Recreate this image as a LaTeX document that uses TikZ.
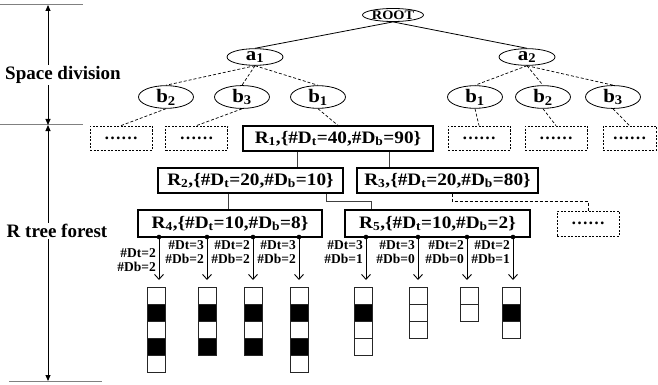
\documentclass[tikz,border=0pt]{standalone}
\usepackage{fontspec}
\setmainfont{Liberation Serif}
\newfontfamily\wideserif{Liberation Serif}[FakeStretch=1.1]
\usetikzlibrary{shapes.geometric,arrows.meta}
\newcommand{\cntT}{\#D\textsubscript{t}}
\newcommand{\cntB}{\#D\textsubscript{b}}
\tikzset{
  key/.style={ellipse,draw,line width=0.8pt,inner sep=0pt,minimum width=56pt,minimum height=15pt,font=\wideserif\fontsize{19}{19}\selectfont\bfseries},
  rbox/.style={draw,line width=1.1pt,inner sep=0pt,minimum height=25pt,font=\wideserif\fontsize{17.5}{18}\selectfont\bfseries},
  stub/.style={draw,dash pattern=on 2pt off 1.5pt,line width=0.8pt,inner sep=0pt,minimum width=62pt,minimum height=24pt,font=\fontsize{17}{17}\selectfont\bfseries},
  side/.style={fill=white,inner sep=1pt,font=\fontsize{19}{19}\selectfont\bfseries},
  cnt/.style={inner sep=0pt,font=\fontsize{13.5}{14}\selectfont\bfseries},
  link/.style={draw=black!75,line width=0.8pt},
  dlink/.style={dash pattern=on 3pt off 2pt,line width=0.7pt},
  dim/.style={line width=0.9pt,{Triangle[length=6pt,width=5pt]}-{Triangle[length=6pt,width=5pt]}},
  ptr/.style={line width=0.9pt,-{Straight Barb[length=5pt,width=9pt]}},
}
\begin{document}
\begin{tikzpicture}[x=1pt,y=1pt,yscale=-1]
\useasboundingbox (0,0) rectangle (658,385);
% scale on the left
\draw[gray,line width=1pt] (0,5) -- (83,5);
\draw[gray,line width=1pt] (0,125) -- (83,125);
\draw[gray,line width=1pt] (9,381) -- (102,381);
\coordinate (t0) at (48,5);
\coordinate (t1) at (48,125);
\coordinate (t2) at (48,381);
\draw[dim] (t0) -- (t1);
\draw[dim] (t1) -- (t2);
\node[side] (sd) at (63,75) {Space division};
\node[side] (rf) at (57,231) {R tree forest};

% space division tree
\node[key,minimum width=61pt,minimum height=13pt,font=\wideserif\fontsize{13}{13}\selectfont\bfseries] (root) at (393,15) {ROOT};
\node[key] (a1) at (255,57) {a\textsubscript{1}};
\node[key] (a2) at (527,57) {a\textsubscript{2}};
\node[key,minimum width=55pt] (l2) at (166,97) {b\textsubscript{2}};
\node[key,minimum width=55pt] (l3) at (242,97) {b\textsubscript{3}};
\node[key,minimum width=55pt] (l1) at (318,97) {b\textsubscript{1}};
\node[key,minimum width=55pt] (r1) at (475,97) {b\textsubscript{1}};
\node[key,minimum width=55pt] (r2) at (543,97) {b\textsubscript{2}};
\node[key,minimum width=55pt] (r3) at (613,97) {b\textsubscript{3}};
\draw[line width=0.8pt] (root.south) -- (a1.north);
\draw[line width=0.8pt] (root.south) -- (a2.north);
\foreach \k in {l2,l3,l1} \draw[dlink] (a1.south) -- (\k.north);
\foreach \k in {r1,r2,r3} \draw[dlink] (a2.south) -- (\k.north);

% R tree forest
\node[stub] (e1) at (121,138) {……};
\node[stub] (e2) at (196.5,138) {……};
\node[rbox,minimum width=190pt] (R1) at (338,138.5) {R\textsubscript{1},\{\cntT=40,\cntB=90\}};
\node[stub] (e3) at (479,138) {……};
\node[stub] (e4) at (556,138) {……};
\node[stub,minimum width=53pt] (e5) at (629.5,138) {……};
\node[rbox,minimum width=185pt] (R2) at (250.5,180.5) {R\textsubscript{2},\{\cntT=20,\cntB=10\}};
\node[rbox,minimum width=181pt] (R3) at (447.5,180.5) {R\textsubscript{3},\{\cntT=20,\cntB=80\}};
\node[rbox,minimum width=184pt,minimum height=27pt] (R4) at (230,223.5) {R\textsubscript{4},\{\cntT=10,\cntB=8\}};
\node[rbox,minimum width=185pt,minimum height=27pt] (R5) at (437.5,223.5) {R\textsubscript{5},\{\cntT=10,\cntB=2\}};
\node[stub,minimum height=25pt] (e6) at (588,223.5) {……};
\draw[dlink] (l2.south) -- (e1.north);
\draw[dlink] (l3.south) -- (e2.north);
\draw[dlink] (l1.south) -- (R1.north);
\draw[dlink] (r1.south) -- (e3.north);
\draw[dlink] (r2.south) -- (e4.north);
\draw[dlink] (r3.south) -- (e5.north);
\coordinate (j1) at (297,0);
\coordinate (j2) at (389,0);
\coordinate (j3) at (228,0);
\coordinate (k1) at (326,201);
\coordinate (k2) at (371,201);
\coordinate (k3) at (452,201);
\draw[link] (R1.south -| j1) -- (R2.north -| j1);
\draw[link] (R1.south -| j2) -- (R3.north -| j2);
\draw[link] (R2.south -| j3) -- (R4.north -| j3);
\draw[link] (R2.south -| k1) -- (k1) -- (k2) -- (R5.north -| k2);
\draw[dlink] (R3.south -| k3) -- (k3) -| (e6.north);

% leaf pointers
\foreach \i/\x/\vt/\vb/\y in {1/159/2/2/253,2/207/3/2/245,3/253/2/2/245,4/299/3/2/245,
                              5/366/3/1/245,6/418/3/0/245,7/467/2/0/245,8/513/2/1/245} {
  \coordinate (p\i) at (\x,237);
  \coordinate (q\i) at (\x,280);
  \fill (p\i) circle (2.3);
  \draw[ptr] (p\i) -- (q\i);
  \node[cnt,anchor=east] (u\i) at (\x-3,\y) {\#Dt=\vt};
  \node[cnt,anchor=east] (v\i) at (\x-3,\y+14) {\#Db=\vb};
}

% data pages
\foreach \x/\cells in {147/{white,black,white,black,white},198/{white,black,white,black},
                       244/{white,black,white,black},290/{white,black,white,black,white},
                       354/{white,black,white,white},409/{white,white,white},
                       460/{white,white},502/{white,black,white}} {
  \foreach \c [count=\k from 0] in \cells
    \filldraw[fill=\c,draw=black!85,line width=0.9pt] (\x,287+17*\k) rectangle ++(18,17);
}
\end{tikzpicture}
\end{document}
